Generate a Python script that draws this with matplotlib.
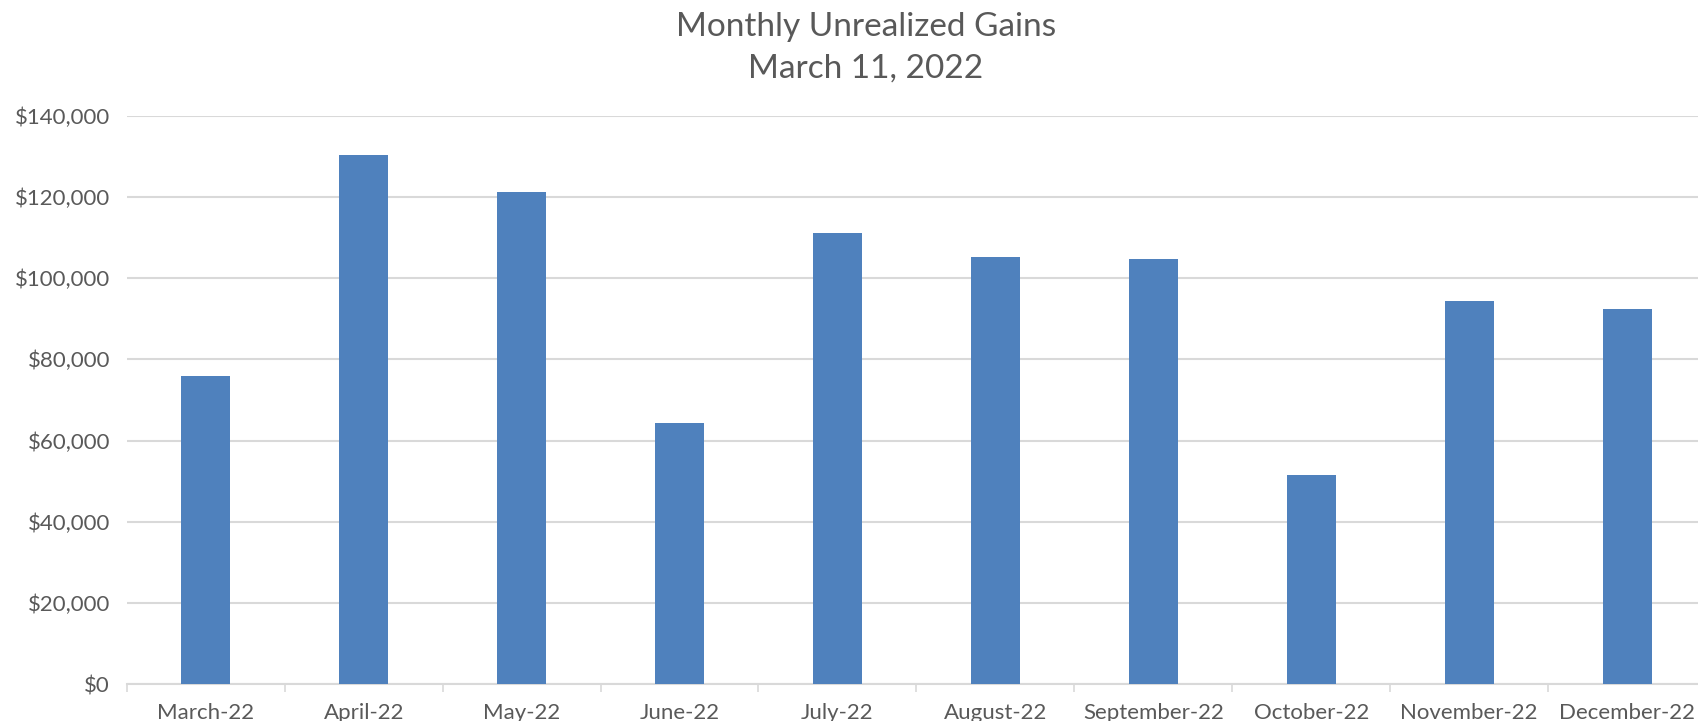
import matplotlib.pyplot as plt
import numpy as np
from matplotlib.ticker import FuncFormatter, MultipleLocator

months = [
    "March-22", "April-22", "May-22", "June-22", "July-22",
    "August-22", "September-22", "October-22", "November-22", "December-22",
]
gains = [76000, 130450, 121250, 64400, 111100, 105200, 104750, 51450, 94350, 92500]
y_ticks = [0, 20000, 40000, 60000, 80000, 100000, 120000, 140000]

BAR = "#4F81BD"
TEXT = "#595959"
GRID = "#D9D9D9"

plt.rcParams["font.family"] = ["Lato", "DejaVu Sans"]

fig = plt.figure(figsize=(16.98, 7.21), dpi=100)
# plot area runs a little past the right edge, like the cropped original
ax = fig.add_axes([0.0747, 0.0513, 0.930, 0.788])

x = np.arange(len(months))
ax.bar(x, gains, width=0.31, color=BAR, zorder=3)

ax.set_xlim(-0.5, len(months) - 0.5)
ax.set_ylim(y_ticks[0], y_ticks[-1])
ax.set_yticks(y_ticks)
ax.yaxis.set_major_formatter(FuncFormatter(lambda v, _: f"${v:,.0f}"))
ax.grid(axis="y", color=GRID, linewidth=1.5, zorder=0)

ax.set_xticks(x)
ax.set_xticklabels(months)
ax.xaxis.set_minor_locator(MultipleLocator(1, offset=0.5))
ax.tick_params(axis="x", which="major", length=0, pad=14, labelsize=16, labelcolor=TEXT)
ax.tick_params(axis="x", which="minor", length=6, width=1.2, color=GRID)
ax.tick_params(axis="y", length=0, pad=12, labelsize=16, labelcolor=TEXT)

for side in ("top", "right", "left"):
    ax.spines[side].set_visible(False)
ax.spines["bottom"].set_color(GRID)
ax.spines["bottom"].set_linewidth(1.5)

fig.suptitle("Monthly Unrealized Gains\nMarch 11, 2022", x=0.51, y=0.984,
             fontsize=24, color=TEXT, linespacing=1.52)

fig.savefig("out.png", dpi=100)
plt.close(fig)
